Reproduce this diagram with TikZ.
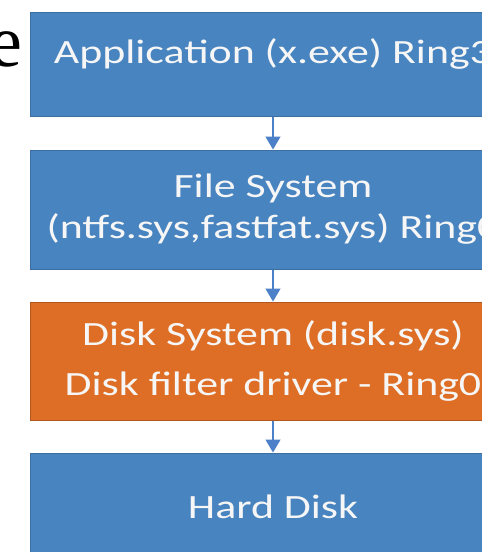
\documentclass[tikz,border=0pt]{standalone}
\usepackage{fontspec}
\setmainfont{Carlito}
\newfontfamily\boxfont[FakeStretch=1.29]{Carlito}
\newfontfamily\serife{Liberation Serif}
\usetikzlibrary{arrows.meta}
\definecolor{boxblue}{RGB}{72,132,192}
\definecolor{edgeblue}{RGB}{60,110,160}
\definecolor{boxorange}{RGB}{222,110,38}
\definecolor{edgeorange}{RGB}{175,88,32}
\definecolor{arrowblue}{RGB}{76,128,200}
\definecolor{txt}{RGB}{246,246,246}
\tikzset{
  x=1pt, y=1pt,
  layer/.style={draw=edgeblue, fill=boxblue, line width=1pt, minimum width=486pt,
    inner sep=0pt, text=txt, align=center,
    font=\boxfont\fontsize{34}{41}\selectfont},
  orangelayer/.style={layer, draw=edgeorange, fill=boxorange,
    font=\boxfont\fontsize{34}{50}\selectfont},
  flow/.style={draw=arrowblue, line width=1.4pt,
    -{Triangle[width=15pt,length=13pt]}}
}
\begin{document}
\begin{tikzpicture}
\useasboundingbox (0,0) rectangle (482,-552);
\clip (0,0) rectangle (482,-552);
\fill[white] (0,0) rectangle (482,-552);
\node[anchor=base east, inner sep=0pt, font=\serife\fontsize{74}{74}\selectfont] (e) at (23,-66) {e};
\node[layer, minimum height=104pt] (app) at (273,-64) {\raisebox{10pt}[\height][\depth]{Application (x.exe) Ring3}};
\node[layer, minimum height=119pt] (fs) at (273,-209.5) {File System\\(ntfs.sys,fastfat.sys) Ring0};
\node[orangelayer, minimum height=118pt] (disk) at (273,-361) {Disk System (disk.sys)\\Disk filter driver - Ring0};
\node[layer, minimum height=107pt] (hd) at (273,-506.5) {Hard Disk};
\draw[flow] (app.south) -- (fs.north);
\draw[flow] (fs.south) -- (disk.north);
\draw[flow] (disk.south) -- (hd.north);
\end{tikzpicture}
\end{document}
